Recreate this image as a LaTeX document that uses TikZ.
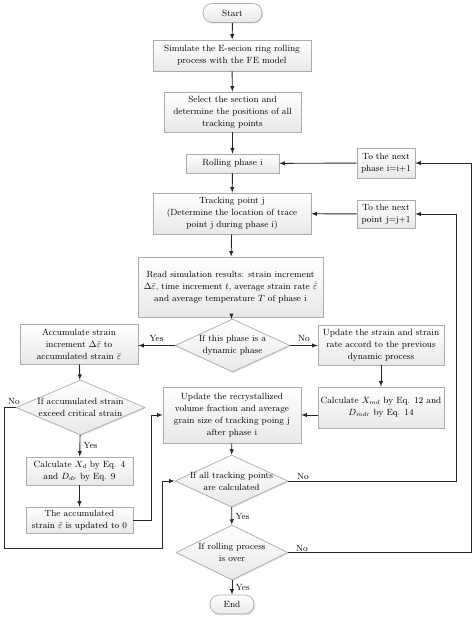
\documentclass[tikz,border=0pt]{standalone}
\usepackage{amsmath,amssymb}
\usetikzlibrary{shapes.geometric,shadows,calc}
\tikzset{
	box/.style={
			draw=gray!65, line width=0.7pt, top color=white, bottom color=gray!18,
			drop shadow={opacity=0.25, shadow xshift=1pt, shadow yshift=-1pt},
			align=center, inner sep=1pt
		},
	terminal/.style={box, rounded corners=9pt},
	decision/.style={
			diamond, draw=gray!65, line width=0.7pt, top color=white, bottom color=gray!18,
			drop shadow={opacity=0.25, shadow xshift=1pt, shadow yshift=-1pt},
			inner sep=0pt
		},
	arr/.style={-latex, draw=gray!30!black, line width=0.9pt},
	link/.style={draw=gray!30!black, line width=0.9pt}
}

\begin{document}
\begin{tikzpicture}[x=1pt, y=-1pt, font=\fontsize{9}{12}\selectfont]
\useasboundingbox (0,0) rectangle (474,620);
% Main column
\node[terminal, minimum width=59, minimum height=19] (start) at (232.5,13) {Start};
\node[box, minimum width=158, minimum height=31] (sim) at (232,55.5) {Simulate the E-secion ring rolling\\process with the FE model};
\node[box, minimum width=137, minimum height=40] (select) at (232.5,112) {Select the section and\\determine the positions of all\\tracking points};
\node[box, minimum width=93, minimum height=19] (phase) at (232.5,163.5) {Rolling phase i};
\node[box, minimum width=158, minimum height=41] (track) at (232,213.5) {Tracking point j\\(Determine the location of trace\\point j during phase i)};
\node[box, minimum width=185, minimum height=60] (read) at (230.5,287) {Read simulation results: strain increment\\$\Delta\bar{\varepsilon}$, time increment $t$, average strain rate $\dot{\bar{\varepsilon}}$\\and average temperature $T$ of phase i};
\node[decision, minimum width=115, minimum height=53] (dyn) at (232.5,345.5) {};
\node[align=center] at (dyn) {If this phase is a\\dynamic phase};
\node[box, minimum width=138, minimum height=56] (recryst) at (232,415) {Update the recrystallized\\volume fraction and average\\grain size of tracking poing j\\after phase i};
\node[decision, minimum width=113, minimum height=52] (alltrack) at (231.5,481) {};
\node[align=center] at (alltrack) {If all tracking points\\are calculated};
\node[decision, minimum width=112, minimum height=55] (over) at (232,552.5) {};
\node[align=center] at (over) {If rolling process\\is over};
\node[terminal, minimum width=44, minimum height=19] (end) at (232,604.5) {End};
% Loop boxes
\node[box, minimum width=58, minimum height=30] (nextphase) at (386,163) {To the next\\phase i=i+1};
\node[box, minimum width=58, minimum height=28] (nextpoint) at (386,214) {To the next\\point j=j+1};
% Dynamic branch
\node[box, minimum width=118, minimum height=40] (accum) at (79,344) {Accumulate strain\\increment $\Delta\bar{\varepsilon}$ to\\accumulated strain $\bar{\varepsilon}$};
\node[decision, minimum width=129, minimum height=55] (crit) at (80.5,407.5) {};
\node[align=center] at (crit) {If accumulated strain\\exceed critical strain};
\node[box, minimum width=107, minimum height=28] (calcd) at (79.5,471) {Calculate $X_{d}$ by Eq. 4\\and $D_{dr}$ by Eq. 9};
\node[box, minimum width=107, minimum height=26] (reset) at (79.5,520) {The accumulated\\strain $\bar{\varepsilon}$ is updated to 0};
% Static branch
\node[box, minimum width=126, minimum height=40] (updstrain) at (381,345) {Update the strain and strain\\rate accord to the previous\\dynamic process};
\node[box, minimum width=126, minimum height=41] (calcmd) at (381,407.5) {Calculate $X_{md}$ by Eq. 12 and\\$D_{mdr}$ by Eq. 14};
% Loop corners
\coordinate (phaseloop) at (471,163);
\coordinate (pointloop) at (456,214);
\coordinate (critloop) at (4,548.5);
\coordinate (critin) at (162,481);
% Connectors
\draw[arr] (start) -- (sim);
\draw[arr] (sim) -- (select);
\draw[arr] (select) -- (phase);
\draw[arr] (phase) -- (track);
\draw[arr] (track) -- (read);
\draw[arr] (read) -- (dyn);
\draw[arr] (dyn.west) -- (accum.east |- dyn.west) node[midway, above] {Yes};
\draw[arr] (dyn.east) -- (updstrain.west |- dyn.east) node[midway, above] {No};
\draw[arr] (accum) -- (crit);
\draw[arr] (crit) -- (calcd) node[midway, right] {Yes};
\draw[arr] (calcd) -- (reset);
\draw[arr] (reset.east) -| ($(recryst.west)+(-11,0)$) -- (recryst.west);
\draw[arr] (updstrain) -- (calcmd);
\draw[arr] (calcmd.west |- recryst.east) -- (recryst.east);
\draw[arr] (recryst) -- (alltrack);
\draw[arr] (alltrack) -- (over) node[midway, right] {Yes};
\draw[arr] (over) -- (end) node[midway, right] {Yes};
\draw[arr] (crit.west) -| (critloop) -| (critin) -- (alltrack.west);
\node at (14,401) {No};
\draw[arr] (alltrack.east) -| (pointloop) -- (nextpoint.east);
\node at (303,476) {No};
\draw[arr] (over.east) -| (phaseloop) -- (nextphase.east);
\node at (302,548) {No};
\draw[arr] (nextpoint) -- (track);
\draw[arr] (nextphase) -- (phase);
\end{tikzpicture}
\end{document}
